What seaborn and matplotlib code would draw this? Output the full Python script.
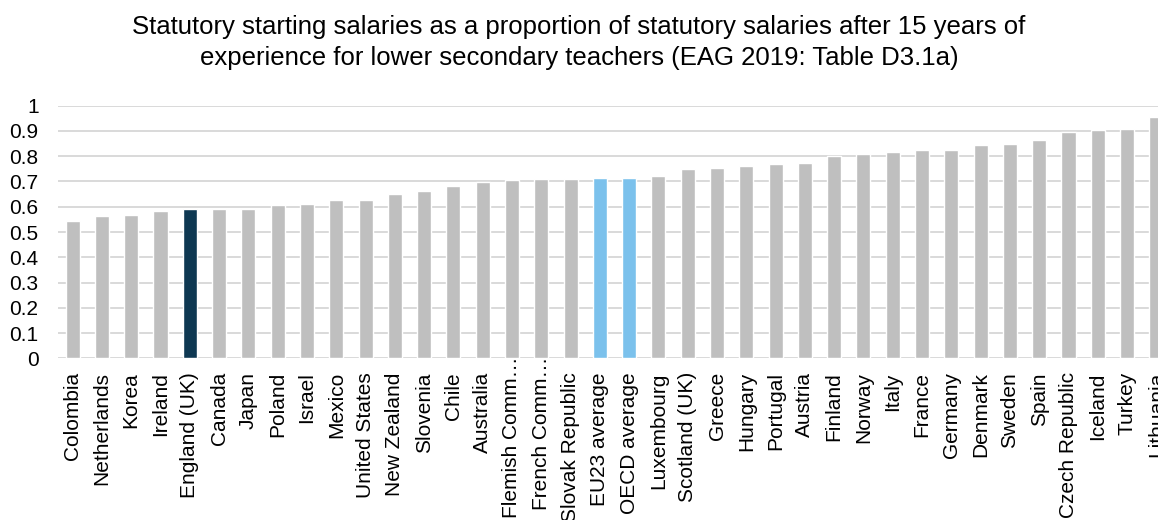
import pandas as pd
import matplotlib
matplotlib.use("Agg")
import matplotlib.pyplot as plt
import matplotlib.transforms as mtransforms
import seaborn as sns

countries = ["Colombia", "Netherlands", "Korea", "Ireland", "England (UK)", "Canada",
             "Japan", "Poland", "Israel", "Mexico", "United States", "New Zealand",
             "Slovenia", "Chile", "Australia", "Flemish Comm\u2026.", "French Comm\u2026.",
             "Slovak Republic", "EU23 average", "OECD average", "Luxembourg",
             "Scotland (UK)", "Greece", "Hungary", "Portugal", "Austria", "Finland",
             "Norway", "Italy", "France", "Germany", "Denmark", "Sweden", "Spain",
             "Czech Republic", "Iceland", "Turkey", "Lithuania"]
ratios = [0.545, 0.564, 0.566, 0.585, 0.592, 0.592, 0.593, 0.607, 0.611, 0.625,
          0.628, 0.651, 0.662, 0.683, 0.696, 0.706, 0.708, 0.709, 0.714, 0.714,
          0.722, 0.748, 0.754, 0.763, 0.771, 0.774, 0.801, 0.810, 0.818, 0.823,
          0.826, 0.845, 0.850, 0.864, 0.894, 0.902, 0.907, 0.957]

GREY = "#BFBFBF"
NAVY = "#0E3852"
LIGHT_BLUE = "#7BC1EC"

def bar_colour(name):
    if name == "England (UK)":
        return NAVY
    if name in ("EU23 average", "OECD average"):
        return LIGHT_BLUE
    return GREY

df = pd.DataFrame({"country": countries, "ratio": ratios})
palette = {c: bar_colour(c) for c in countries}

sns.set_style("white")
plt.rcParams["font.family"] = ["Liberation Sans", "DejaVu Sans"]
plt.rcParams["text.color"] = "black"
plt.rcParams["xtick.color"] = "black"
plt.rcParams["ytick.color"] = "black"

fig = plt.figure(figsize=(11.58, 5.2), dpi=100)
# axes runs off the right edge like the original export
ax = fig.add_axes([58 / 1158, 1 - 358.3 / 520, 1113 / 1158, (358.3 - 105.7) / 520])

sns.barplot(data=df, x="country", y="ratio", hue="country", palette=palette,
            width=0.48, legend=False, saturation=1, ax=ax)

ax.set_ylim(0, 1)
ax.set_xlim(-0.5, len(countries) - 0.5)
ax.set_yticks([i / 10 for i in range(11)])
ax.set_yticklabels(["0"] + ["0.%d" % i for i in range(1, 10)] + ["1"], fontsize=15)
ax.yaxis.grid(True, color="#D9D9D9", linewidth=1.4)
ax.set_axisbelow(True)
for side in ["top", "right", "left", "bottom"]:
    ax.spines[side].set_visible(False)
ax.tick_params(axis="both", length=0)
ax.tick_params(axis="y", pad=14)
ax.tick_params(axis="x", pad=10)
plt.setp(ax.get_xticklabels(), rotation=90, fontsize=15, va="top", ha="center")
ax.set_xlabel("")
ax.set_ylabel("")

# truncated labels sit higher, their dots poke above the axis line
shift = mtransforms.ScaledTranslation(0, 21 / 100, fig.dpi_scale_trans)
for lab in ax.get_xticklabels():
    if lab.get_text().endswith("\u2026."):
        lab.set_transform(lab.get_transform() + shift)

fig.text(0.5, 0.972, "Statutory starting salaries as a proportion of statutory salaries after 15 years of\n"
         "experience for lower secondary teachers (EAG 2019: Table D3.1a)",
         ha="center", va="top", fontsize=18.5, linespacing=1.38)

fig.savefig("out.png", dpi=100)
